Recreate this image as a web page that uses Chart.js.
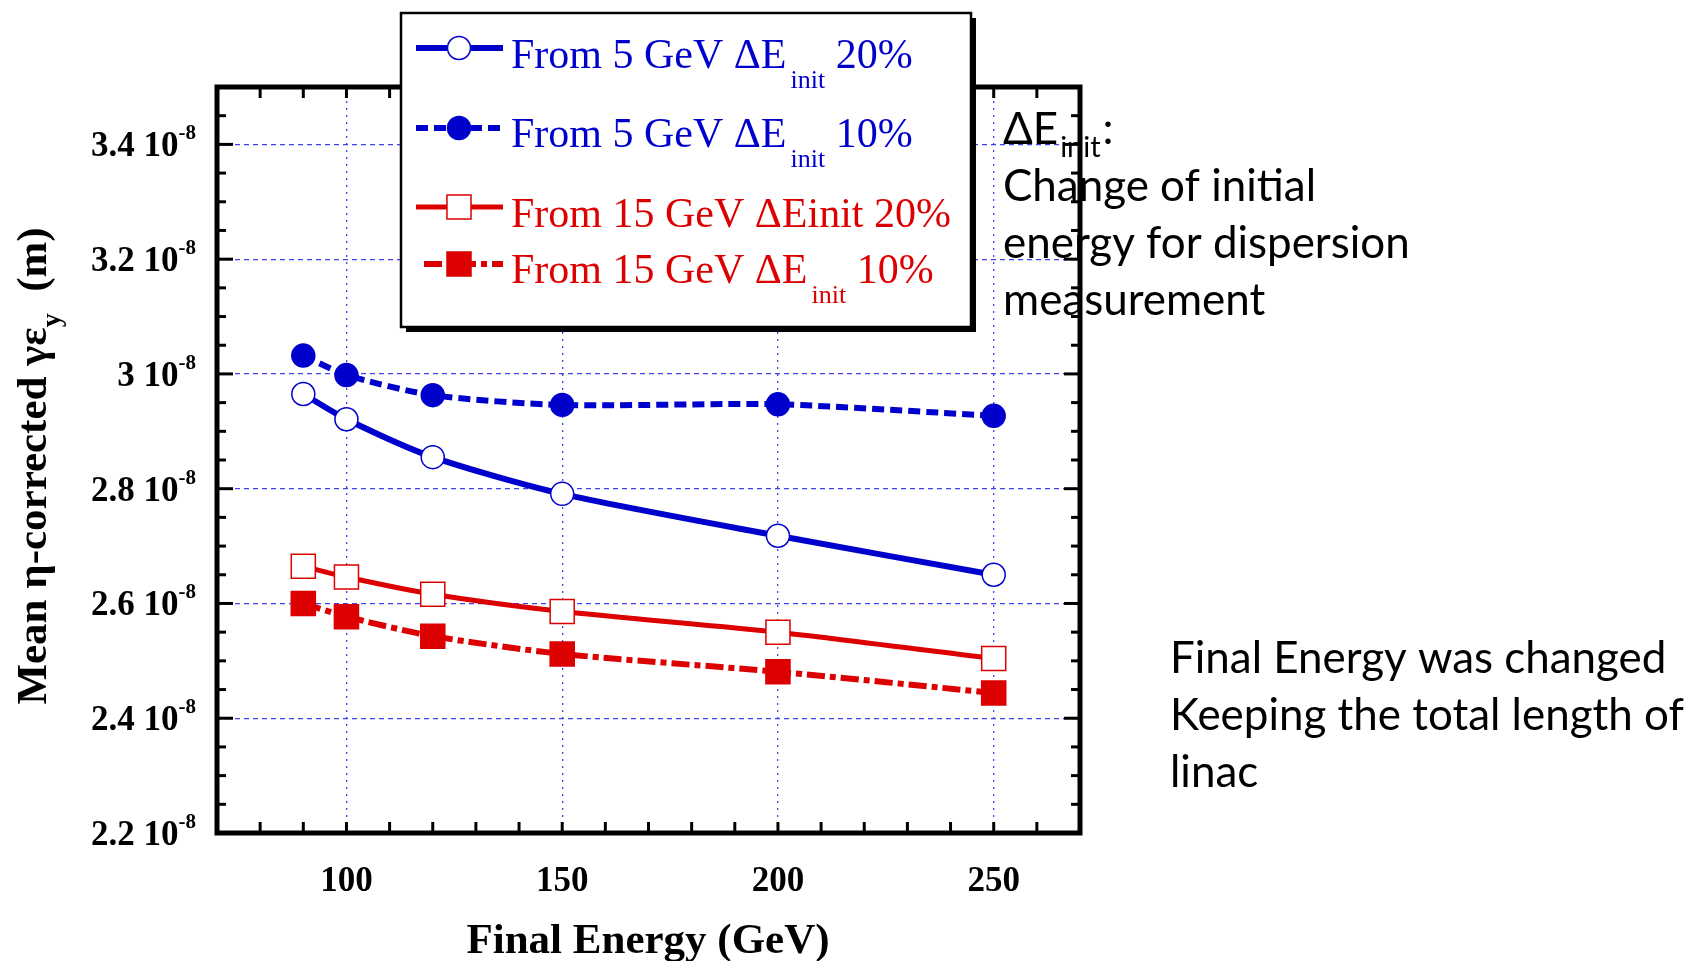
<!DOCTYPE html>
<html>
<head>
<meta charset="utf-8">
<script src="https://cdn.jsdelivr.net/npm/chart.js@4.4.1/dist/chart.umd.min.js"></script>
<style>
  html, body { margin: 0; padding: 0; background: #fff; }
  canvas { display: block; }
</style>
</head>
<body>
<canvas id="chart" width="1694" height="961"></canvas>
<script>
const BLUE = "#0000cd";
const RED = "#dc0000";
const GRID = "rgba(45, 45, 235, 0.9)";
const SERIF = '"Liberation Serif", "Times New Roman", serif';
const SANS = 'Lato, "Open Sans", "Noto Sans", sans-serif';

// final energy (GeV)
const energies = [90, 100, 120, 150, 200, 250];
// mean eta-corrected gamma*eps_y, in units of 1e-8 m
const from5_20 = [2.965, 2.921, 2.855, 2.791, 2.718, 2.650];
const from5_10 = [3.032, 2.998, 2.963, 2.946, 2.947, 2.927];
const from15_20 = [2.665, 2.646, 2.616, 2.586, 2.550, 2.504];
const from15_10 = [2.600, 2.577, 2.543, 2.512, 2.481, 2.444];

const xTickValues = [100, 150, 200, 250];
const xTickLabels = ["100", "150", "200", "250"];
const yTickValues = [2.2, 2.4, 2.6, 2.8, 3.0, 3.2, 3.4];
const yTickLabels = ["2.2", "2.4", "2.6", "2.8", "3", "3.2", "3.4"];

// legend text split as [main, subscript, rest]
const legendParts = [
  ["From 5 GeV \u0394E", "init", " 20%"],
  ["From 5 GeV \u0394E", "init", " 10%"],
  ["From 15 GeV \u0394Einit 20%", "", ""],
  ["From 15 GeV \u0394E", "init", " 10%"],
];

const noteTop = ["Change of initial", "energy for dispersion", "measurement"];
const noteBottom = ["Final Energy was changed", "Keeping the total length of", "linac"];

function series(label, values, color, opts) {
  return Object.assign({
    label,
    data: energies.map((e, i) => ({ x: e, y: values[i] })),
    borderColor: color,
    pointBorderColor: color,
    pointBorderWidth: 1.5,
    tension: 0.25,
  }, opts);
}

const datasets = [
  series("From 5 GeV \u0394Einit 20%", from5_20, BLUE, {
    borderWidth: 6, pointStyle: "circle", pointRadius: 11.5, pointBackgroundColor: "#fff",
  }),
  series("From 5 GeV \u0394Einit 10%", from5_10, BLUE, {
    borderWidth: 6, borderDash: [12, 6], pointStyle: "circle", pointRadius: 11.5, pointBackgroundColor: BLUE,
  }),
  series("From 15 GeV \u0394Einit 20%", from15_20, RED, {
    borderWidth: 5, pointStyle: "rect", pointRadius: 17, pointBackgroundColor: "#fff",
  }),
  series("From 15 GeV \u0394Einit 10%", from15_10, RED, {
    borderWidth: 6, borderDash: [18, 5, 6, 5], pointStyle: "rect", pointRadius: 17, pointBackgroundColor: RED,
  }),
];

function line(ctx, x1, y1, x2, y2) {
  ctx.beginPath();
  ctx.moveTo(x1, y1);
  ctx.lineTo(x2, y2);
  ctx.stroke();
}

function fitSize(ctx, weight, family, text, width) {
  ctx.font = `${weight} 100px ${family}`;
  return 100 * width / ctx.measureText(text).width;
}

const decor = {
  id: "decor",
  afterDraw(chart) {
    const ctx = chart.ctx;
    const { left, right, top, bottom } = chart.chartArea;
    const xs = chart.scales.x;
    const ys = chart.scales.y;
    ctx.save();

    // frame
    ctx.strokeStyle = "#000";
    ctx.lineWidth = 5;
    ctx.strokeRect(left, top, right - left, bottom - top);

    // inward ticks
    ctx.lineWidth = 3;
    for (let v = 80; v <= 260; v += 10) {
      const x = xs.getPixelForValue(v);
      line(ctx, x, bottom, x, bottom - 11);
      line(ctx, x, top, x, top + 11);
    }
    for (let k = 1; k <= 26; k++) {
      const v = 2.2 + k * 0.05;
      const y = ys.getPixelForValue(v);
      const len = k % 4 === 0 ? 16 : 9;
      line(ctx, left, y, left + len, y);
      line(ctx, right, y, right - len, y);
    }

    // tick labels
    ctx.fillStyle = "#000";
    ctx.textBaseline = "alphabetic";
    ctx.textAlign = "center";
    ctx.font = `bold 35px ${SERIF}`;
    xTickValues.forEach((v, i) => {
      ctx.fillText(xTickLabels[i], xs.getPixelForValue(v), 891);
    });
    ctx.textAlign = "right";
    yTickValues.forEach((v, i) => {
      const y = ys.getPixelForValue(v);
      ctx.font = `bold 21px ${SERIF}`;
      const supW = ctx.measureText("-8").width;
      ctx.fillText("-8", 196, y - 5);
      ctx.font = `bold 35px ${SERIF}`;
      ctx.fillText(yTickLabels[i] + " 10", 196 - supW, y + 12);
    });

    // axis titles
    ctx.textAlign = "center";
    ctx.font = `bold 43px ${SERIF}`;
    ctx.fillText("Final Energy (GeV)", 648, 953);

    ctx.save();
    ctx.translate(46, 466);
    ctx.rotate(-Math.PI / 2);
    ctx.textAlign = "left";
    const parts = [
      { t: "Mean \u03b7-corrected \u03b3\u03b5", f: `bold 43px ${SERIF}`, dy: 0 },
      { t: "y", f: `bold 28px ${SERIF}`, dy: 14 },
      { t: "  (m)", f: `bold 43px ${SERIF}`, dy: 0 },
    ];
    let total = 0;
    parts.forEach((p) => { ctx.font = p.f; p.w = ctx.measureText(p.t).width; total += p.w; });
    let px = -total / 2;
    parts.forEach((p) => { ctx.font = p.f; ctx.fillText(p.t, px, p.dy); px += p.w; });
    ctx.restore();

    // legend box
    const bx = 401, by = 13, bw = 570, bh = 314;
    ctx.fillStyle = "#000";
    ctx.fillRect(bx + 5, by + 5, bw, bh);
    ctx.fillStyle = "#fff";
    ctx.fillRect(bx, by, bw, bh);
    ctx.lineWidth = 2.5;
    ctx.strokeStyle = "#000";
    ctx.strokeRect(bx, by, bw, bh);

    const rowMarkY = [48, 128, 207, 264];
    const rowTextY = [68, 147, 227, 283];
    const lineStart = [416, 416, 416, 424];
    chart.data.datasets.forEach((ds, i) => {
      const my = rowMarkY[i];
      ctx.save();
      ctx.strokeStyle = ds.borderColor;
      ctx.lineWidth = ds.borderWidth;
      ctx.setLineDash(ds.borderDash || []);
      line(ctx, lineStart[i], my, 503, my);
      ctx.restore();
      ctx.save();
      ctx.fillStyle = ds.pointBackgroundColor;
      ctx.strokeStyle = ds.pointBorderColor;
      ctx.lineWidth = ds.pointBorderWidth;
      Chart.helpers.drawPoint(ctx, { pointStyle: ds.pointStyle, radius: ds.pointRadius, rotation: 0, borderWidth: ds.pointBorderWidth }, 459, my);
      ctx.restore();

      const [main, sub, rest] = legendParts[i];
      ctx.fillStyle = ds.borderColor;
      ctx.textAlign = "left";
      let tx = 511;
      ctx.font = `42px ${SERIF}`;
      ctx.fillText(main, tx, rowTextY[i]);
      tx += ctx.measureText(main).width + 4;
      if (sub) {
        ctx.font = `26px ${SERIF}`;
        ctx.fillText(sub, tx, rowTextY[i] + 20);
        tx += ctx.measureText(sub).width;
        ctx.font = `42px ${SERIF}`;
        ctx.fillText(rest, tx, rowTextY[i]);
      }
    });

    // notes
    ctx.fillStyle = "#000";
    ctx.textAlign = "left";
    const s = fitSize(ctx, "", SANS, noteBottom[1], 514);
    ctx.font = `${s}px ${SANS}`;
    ctx.fillText("\u0394E", 1003, 144);
    let nx = 1003 + ctx.measureText("\u0394E").width + 2;
    ctx.font = `${s * 0.66}px ${SANS}`;
    ctx.fillText("init", nx, 157);
    nx += ctx.measureText("init").width + 2;
    ctx.font = `${s}px ${SANS}`;
    ctx.fillText(":", nx, 144);
    noteTop.forEach((t, i) => ctx.fillText(t, 1003, 201 + i * 57));
    noteBottom.forEach((t, i) => ctx.fillText(t, 1170, 673 + i * 57));

    ctx.restore();
  },
};

new Chart(document.getElementById("chart"), {
  type: "line",
  data: { datasets },
  plugins: [decor],
  options: {
    responsive: false,
    animation: false,
    layout: { padding: { left: 217, top: 87, right: 614, bottom: 128 } },
    plugins: { legend: { display: false }, tooltip: { enabled: false } },
    scales: {
      x: {
        type: "linear",
        min: 70,
        max: 270,
        afterBuildTicks: (s) => { s.ticks = xTickValues.map((v) => ({ value: v })); },
        afterFit: (s) => { s.height = 0; },
        ticks: { display: false },
        grid: { color: GRID, lineWidth: 1.3, drawTicks: false },
        border: { display: false, dash: [2, 5] },
      },
      y: {
        min: 2.2,
        max: 3.5,
        afterBuildTicks: (s) => { s.ticks = yTickValues.map((v) => ({ value: v })); },
        afterFit: (s) => { s.width = 0; },
        ticks: { display: false },
        grid: { color: GRID, lineWidth: 1.3, drawTicks: false },
        border: { display: false, dash: [5, 4] },
      },
    },
  },
});
</script>
</body>
</html>
